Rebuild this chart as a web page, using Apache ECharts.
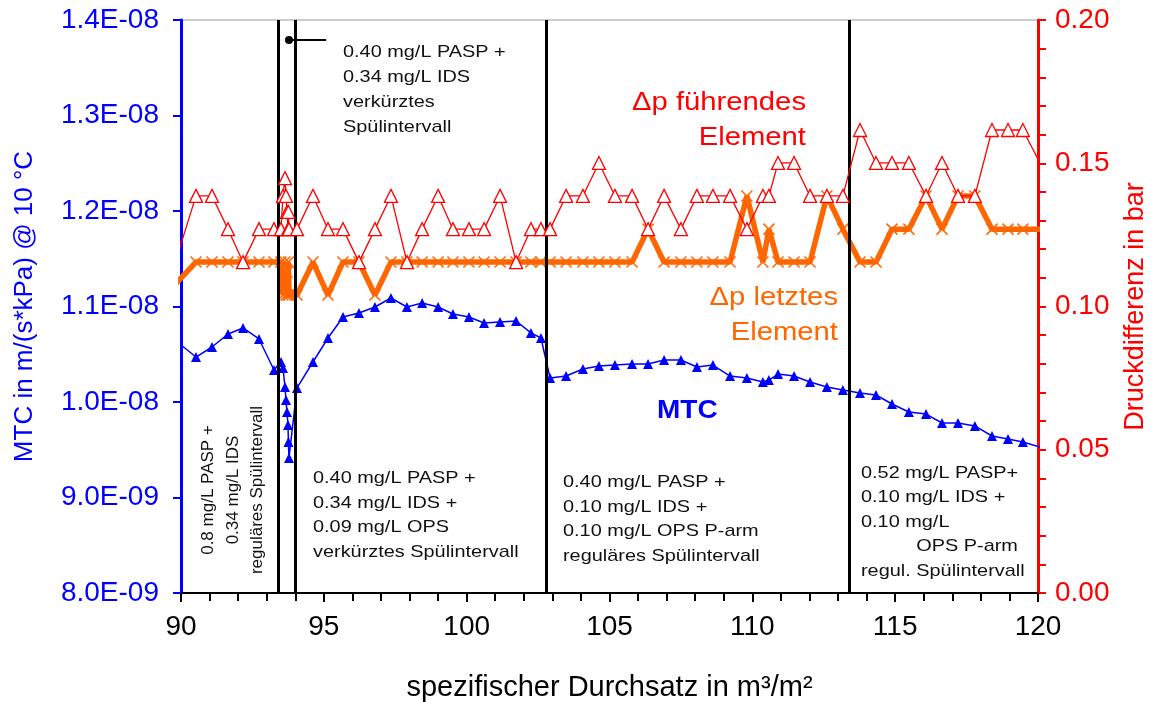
<!DOCTYPE html>
<html>
<head>
<meta charset="utf-8">
<script src="https://cdn.jsdelivr.net/npm/echarts@6/dist/echarts.min.js"></script>
<style>
  html, body { margin: 0; padding: 0; background: #fff; }
  #main { width: 1164px; height: 702px; }
</style>
</head>
<body>
<div id="main"></div>
<script>
// spezifischer Durchsatz (m³/m²), gemeinsame Messpunkte
var durchsatz = [
  89.44, 90.525, 91.085, 91.645, 92.17, 92.73, 93.255,
  93.50, 93.57, 93.64, 93.675, 93.71, 93.745, 93.76, 93.78,
  94.06, 94.62, 95.145, 95.67, 96.23, 96.79, 97.35, 97.91, 98.44, 99.00,
  99.52, 100.08, 100.61, 101.17, 101.73, 102.25, 102.60, 102.92, 103.48,
  104.07, 104.63, 105.19, 105.79, 106.35, 106.91, 107.50, 108.06, 108.62,
  109.22, 109.81, 110.37, 110.58, 110.90, 111.46, 112.02, 112.61, 113.17,
  113.77, 114.33, 114.89, 115.48, 116.08, 116.64, 117.20, 117.79, 118.39,
  118.95, 119.47, 120.07
];
// MTC in m/(s*kPa) @ 10 °C
var mtc = [
  1.0733e-8, 1.0471e-8, 1.0576e-8, 1.0712e-8, 1.0775e-8, 1.066e-8, 1.0335e-8,
  1.0419e-8, 1.0356e-8, 1.0157e-8, 1.0021e-8, 0.9895e-8, 0.9759e-8, 0.9581e-8, 0.9414e-8,
  1.0147e-8, 1.0419e-8, 1.067e-8, 1.089e-8, 1.0932e-8, 1.0995e-8, 1.1089e-8, 1.0995e-8, 1.1037e-8, 1.0995e-8,
  1.0921e-8, 1.089e-8, 1.0827e-8, 1.0838e-8, 1.0848e-8, 1.0723e-8, 1.067e-8, 1.0251e-8, 1.0272e-8,
  1.0346e-8, 1.0377e-8, 1.0387e-8, 1.0398e-8, 1.0398e-8, 1.044e-8, 1.044e-8, 1.0366e-8, 1.0387e-8,
  1.0272e-8, 1.0251e-8, 1.0209e-8, 1.023e-8, 1.0293e-8, 1.0272e-8, 1.0209e-8, 1.0157e-8, 1.0126e-8,
  1.0094e-8, 1.0073e-8, 0.9979e-8, 0.9895e-8, 0.9874e-8, 0.978e-8, 0.978e-8, 0.9749e-8, 0.9644e-8,
  0.9613e-8, 0.9581e-8, 0.9529e-8
];
// Druckdifferenz führendes Element (bar)
var dpFuehrend = [
  0.104, 0.1386, 0.1386, 0.127, 0.1155, 0.127, 0.127,
  0.127, 0.1386, 0.1448, 0.1386, 0.133, 0.127, 0.133, 0.127,
  0.127, 0.1386, 0.127, 0.127, 0.1155, 0.127, 0.1386, 0.1155, 0.127, 0.1386,
  0.127, 0.127, 0.127, 0.1386, 0.1155, 0.127, 0.127, 0.127, 0.1386,
  0.1386, 0.1501, 0.1386, 0.1386, 0.127, 0.1386, 0.127, 0.1386, 0.1386,
  0.1386, 0.127, 0.1386, 0.1386, 0.1501, 0.1501, 0.1386, 0.1386, 0.1386,
  0.1616, 0.1501, 0.1501, 0.1501, 0.1386, 0.1501, 0.1386, 0.1386, 0.1616,
  0.1616, 0.1616, 0.1501
];
// Druckdifferenz letztes Element (bar)
var dpLetztes = [
  0.104, 0.1155, 0.1155, 0.1155, 0.1155, 0.1155, 0.1155,
  0.1155, 0.104, 0.1155, 0.104, 0.112, 0.104, 0.1155, 0.104,
  0.104, 0.1155, 0.104, 0.1155, 0.1155, 0.104, 0.1155, 0.1155, 0.1155, 0.1155,
  0.1155, 0.1155, 0.1155, 0.1155, 0.1155, 0.1155, 0.1155, 0.1155, 0.1155,
  0.1155, 0.1155, 0.1155, 0.1155, 0.127, 0.1155, 0.1155, 0.1155, 0.1155,
  0.1155, 0.1386, 0.1155, 0.127, 0.1155, 0.1155, 0.1155, 0.1386, 0.127,
  0.1155, 0.1155, 0.127, 0.127, 0.1386, 0.127, 0.1386, 0.1386, 0.127,
  0.127, 0.127, 0.127
];
// Grenzen der Versuchsphasen
var phasenGrenzen = [93.40, 93.99, 102.78, 113.38];
// Hinweispfeil
var pfeil = [[93.78, 1.379e-8], [95.08, 1.379e-8]];

var FONT = '"Liberation Sans", Arial, sans-serif';
var SX = 1.17; // Schrift im Original horizontal gestreckt

function pairs(ys) {
  return durchsatz.map(function (x, i) { return [x, ys[i]]; });
}
function fmtE(v) {
  var p = v.toExponential(1).split('e');
  var n = parseInt(p[1], 10);
  return p[0] + 'E' + (n < 0 ? '-' : '+') + String(Math.abs(n)).padStart(2, '0');
}
function txt(x, y, text, font, fill, lh, align, sx) {
  return {
    type: 'text', x: x, y: y, scaleX: sx || SX, z: 10,
    style: { text: text, font: font, fill: fill, lineHeight: lh,
      align: align || 'left', verticalAlign: 'top' }
  };
}

var chart = echarts.init(document.getElementById('main'));

var option = {
  animation: false,
  backgroundColor: '#fff',
  grid: { left: 181, right: 126, top: 20, bottom: 109, show: true, borderColor: '#999', borderWidth: 1,
    outerBoundsMode: 'none' },
  xAxis: {
    type: 'value', min: 90, max: 120, interval: 5,
    name: 'spezifischer Durchsatz in m³/m²', nameLocation: 'middle', nameGap: 80,
    nameTextStyle: { color: '#000', fontSize: 29, fontFamily: FONT },
    axisLine: { onZero: false, lineStyle: { color: '#000', width: 2 } },
    axisTick: { inside: false, length: 9, lineStyle: { color: '#000', width: 2 } },
    minorTick: { show: true, splitNumber: 5, length: 8, lineStyle: { color: '#000', width: 2 } },
    axisLabel: { color: '#000', fontSize: 28, fontFamily: FONT, margin: 20 },
    splitLine: { show: false }
  },
  yAxis: [{
    type: 'value', min: 8e-9, max: 1.4e-8, interval: 1e-9, position: 'left',
    name: 'MTC in m/(s*kPa) @ 10 °C', nameLocation: 'middle', nameGap: 143,
    nameTextStyle: { color: '#0000ff', fontSize: 26, fontFamily: FONT },
    axisLine: { show: true, lineStyle: { color: '#0000ff', width: 3 } },
    axisTick: { show: true, length: 8, lineStyle: { color: '#0000ff', width: 2 } },
    axisLabel: { color: '#0000ff', fontSize: 28, fontFamily: FONT, margin: 22, formatter: fmtE },
    splitLine: { show: false }
  }, {
    type: 'value', min: 0, max: 0.2, interval: 0.05, position: 'right',
    name: 'Druckdifferenz in bar', nameLocation: 'middle', nameGap: 84, nameRotate: 90,
    nameTextStyle: { color: '#ff0000', fontSize: 27, fontFamily: FONT },
    axisLine: { show: true, lineStyle: { color: '#ff0000', width: 3 } },
    axisTick: { show: true, length: 8, lineStyle: { color: '#ff0000', width: 2 } },
    minorTick: { show: true, splitNumber: 5, length: 8, lineStyle: { color: '#ff0000', width: 2 } },
    axisLabel: { color: '#ff0000', fontSize: 28, fontFamily: FONT, margin: 17,
      formatter: function (v) { return v.toFixed(2); } },
    splitLine: { show: false }
  }],
  series: [{
    name: 'MTC', type: 'line', yAxisIndex: 0, data: pairs(mtc),
    symbol: 'triangle', symbolSize: 10,
    lineStyle: { color: '#0000ff', width: 1.5 },
    itemStyle: { color: '#0000ff' },
    z: 3,
    markLine: {
      silent: true, symbol: ['none', 'none'], label: { show: false },
      lineStyle: { color: '#000', width: 3, type: 'solid' },
      data: phasenGrenzen.map(function (x) { return { xAxis: x }; })
    }
  }, {
    name: 'dp letztes', type: 'line', yAxisIndex: 1, data: pairs(dpLetztes),
    symbol: 'path://M0,0L10,10M10,0L0,10', symbolSize: 11,
    lineStyle: { color: '#ff6600', width: 5.5 },
    itemStyle: { color: '#ff6600', borderColor: '#ff6600', borderWidth: 1.5 },
    z: 4
  }, {
    name: 'dp fuehrend', type: 'line', yAxisIndex: 1, data: pairs(dpFuehrend),
    symbol: 'triangle', symbolSize: 13,
    lineStyle: { color: '#ff0000', width: 1.3 },
    itemStyle: { color: '#fff', borderColor: '#ff0000', borderWidth: 1.3 },
    z: 5
  }, {
    name: 'pfeil', type: 'line', yAxisIndex: 0, data: pfeil,
    symbol: function (v, p) { return p.dataIndex === 0 ? 'circle' : 'none'; }, symbolSize: 8,
    lineStyle: { color: '#000', width: 2 },
    itemStyle: { color: '#000' },
    z: 6
  }],
  graphic: [
    txt(343, 40, '0.40 mg/L PASP +\n0.34 mg/L IDS\nverkürztes\nSpülintervall', '17px ' + FONT, '#111', 25),
    txt(806, 86, 'Δp führendes\nElement', '25px ' + FONT, '#ff0000', 35, 'right'),
    txt(838, 281, 'Δp letztes\nElement', '25px ' + FONT, '#ff6600', 35, 'right'),
    txt(657, 396, 'MTC', 'bold 25px ' + FONT, '#0000ff', 30, 'left', 1.12),
    { type: 'text', x: 233, y: 490, rotation: Math.PI / 2, z: 10,
      style: { text: '0.8 mg/L PASP +\n0.34 mg/L IDS\nreguläres Spülintervall',
        font: '17px ' + FONT, fill: '#111', lineHeight: 24.5, align: 'center', verticalAlign: 'middle' } },
    txt(313, 466, '0.40 mg/L PASP +\n0.34 mg/L IDS +\n0.09 mg/L OPS\nverkürztes Spülintervall', '17px ' + FONT, '#111', 24.7),
    txt(563, 470, '0.40 mg/L PASP +\n0.10 mg/L IDS +\n0.10 mg/L OPS P-arm\nreguläres Spülintervall', '17px ' + FONT, '#111', 24.7),
    txt(861, 461, '0.52 mg/L PASP+\n0.10 mg/L IDS +\n0.10 mg/L\n          OPS P-arm\nregul. Spülintervall', '17px ' + FONT, '#111', 24.5)
  ]
};

chart.setOption(option);
</script>
</body>
</html>
